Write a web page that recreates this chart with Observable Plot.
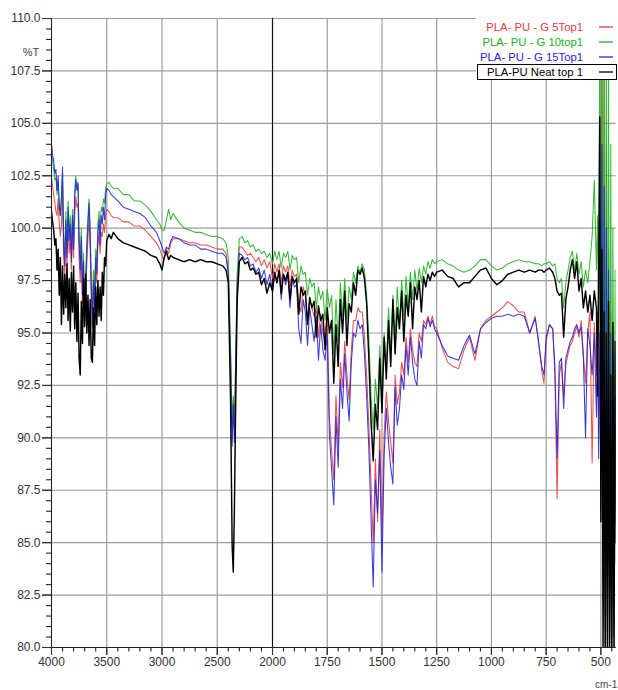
<!DOCTYPE html>
<html><head><meta charset="utf-8">
<script src="https://cdn.jsdelivr.net/npm/d3@7"></script>
<script src="https://cdn.jsdelivr.net/npm/@observablehq/plot@0.6"></script>
<style>body{margin:0;background:#fff}#chart{width:618px;height:690px}</style>
</head><body><div id="chart"></div>
<script>
const wavenumber = [
4000,3990,3980,3970,3960,3950,3940,3930,3920,3910,3900,3890,3880,3870,3860,3850,3840,3830,3820,3810,3800,3790,3780,3770,3760,3750,3740,3730,3720,3710,3700,3690,3680,3670,3660,3650,3640,3630,3620,3610,3600,3590,3580,3570,3560,3550,3540,3530,3520,3510,3500,3480,3460,3440,
3400,3350,3300,3250,3200,3150,3100,3050,3020,3000,2980,2960,2940,2920,2900,2850,2800,2750,2700,2650,2600,2550,2500,2450,
2420,2400,2380,2365,2355,2345,2335,2320,2300,
2275,2250,2225,2200,2175,2150,2125,2100,2075,2050,2025,
2000,1990,1980,1970,1960,1950,1940,1930,1920,1910,1900,1890,1880,1870,1860,1850,1840,1830,1820,1810,1800,1790,1780,1770,1760,1750,1740,1730,1720,1710,1700,1690,1680,1670,1660,1650,1640,1630,1620,1610,1600,1590,1580,1570,1560,1550,1540,1530,1520,1510,1500,1490,1480,1470,1460,1450,1440,1430,1420,1410,1400,1390,1380,1370,1360,1350,1340,1330,1320,1310,1300,1290,1280,1270,1260,
1250,1225,1200,1175,1150,1125,1100,1075,1050,1025,1000,975,950,925,900,875,850,825,800,785,770,760,750,735,720,
710,700,690,680,670,660,650,640,630,620,610,600,590,580,570,560,550,540,530,520,515,510,505,500,495,490,485,480,475,470,465,460,455,450,445,440,435,430];

const g5 = [
102.4,102.0,101.6,101.2,100.8,100.6,101.4,100.2,99.6,100.2,101.8,98.6,97.8,99.6,98.2,100.2,98.8,99.6,98.0,99.8,98.6,100.6,101.5,101.0,101.2,98.6,97.4,99.0,96.4,97.8,95.4,96.8,98.4,99.6,100.4,99.0,96.6,95.2,97.0,96.0,98.0,97.4,99.2,99.8,98.8,99.8,99.6,100.2,99.8,100.6,100.9,100.8,100.6,100.5,
100.5,100.3,100.3,100.1,100.1,99.9,99.6,99.3,99.0,98.7,98.5,99.0,98.8,99.3,99.5,99.5,99.4,99.3,99.3,99.2,99.2,99.1,99.0,99.0,
98.8,98.0,94.0,90.4,91.8,90.4,93.0,97.4,99.1,
99.1,98.9,98.7,98.8,98.6,98.4,98.6,98.2,98.5,98.1,98.4,
97.6,98.3,97.9,98.3,97.4,98.2,97.9,98.2,97.2,98.0,
97.7,97.8,96.4,96.0,97.2,96.8,95.6,96.6,96.2,95.8,
96.2,94.8,95.9,95.0,94.6,95.8,91.0,89.4,88.0,92.0,
89.6,93.6,92.4,94.6,93.0,91.8,94.2,95.6,95.6,96.2,
96.0,96.0,94.8,93.0,90.6,87.8,85.0,89.0,86.0,90.4,
85.4,90.2,92.2,90.8,89.8,88.8,93.0,91.6,92.2,93.6,
93.0,94.8,93.6,95.2,94.2,93.6,93.4,95.0,94.6,95.6,
95.4,95.8,95.4,95.8,95.3,
95.2,94.3,93.6,93.4,93.3,94.2,94.8,93.7,95.2,95.6,95.8,96.0,96.2,96.5,96.3,96.0,96.0,95.0,95.8,94.6,93.2,92.6,94.6,95.4,95.2,
93.0,87.1,93.0,93.6,92.0,93.5,94.0,94.4,94.6,95.0,95.3,94.8,95.6,94.0,92.6,95.0,96.0,88.8,95.5,93.0,96.0,90.0,93.5,88.0,110.5,82.0,108.0,80.0,104.0,80.5,99.0,82.0,96.0,80.5,95.0,82.0,93.0,86.0];

const g10 = [
103.6,103.2,102.8,102.3,102.4,101.6,102.2,101.0,100.6,101.4,102.6,99.6,98.8,100.8,99.2,101.3,99.8,100.6,99.0,100.9,99.6,101.8,102.5,102.0,102.2,99.6,98.6,100.0,97.4,98.8,96.4,97.8,99.4,100.6,101.4,100.0,97.6,96.2,98.0,97.0,99.0,98.4,100.2,100.8,99.8,101.0,100.8,101.4,101.2,101.9,102.1,102.2,102.0,101.9,
101.9,101.6,101.6,101.3,101.3,101.1,100.8,100.4,100.2,99.9,99.9,100.4,100.9,100.4,100.7,100.3,100.0,99.9,99.8,99.8,99.7,99.6,99.6,99.5,
99.3,98.6,94.4,90.6,92.0,90.8,93.4,97.8,99.5,
99.6,99.3,99.4,99.1,99.2,98.9,99.0,98.8,98.9,98.6,98.8,
98.3,98.9,98.5,98.9,98.1,98.8,98.6,98.9,98.0,98.7,
98.5,98.6,97.4,98.2,97.8,97.9,96.8,97.6,97.2,97.4,
96.2,97.2,96.6,97.0,95.6,97.1,96.2,96.8,94.0,96.6,
94.6,97.4,95.8,97.6,95.6,97.2,96.6,97.9,97.4,98.2,
97.9,98.3,98.0,96.8,94.8,92.0,90.4,92.8,91.4,94.4,
92.2,95.0,93.4,96.2,94.0,96.8,94.8,97.2,95.4,97.5,
95.8,97.7,96.2,97.9,96.6,98.0,97.0,98.1,97.4,98.2,
97.8,98.4,98.1,98.5,98.3,
98.4,98.5,98.3,98.2,98.0,97.9,98.0,98.2,98.5,98.5,98.2,98.0,98.1,98.3,98.4,98.5,98.4,98.4,98.3,98.3,98.2,98.3,98.3,98.4,98.2,
98.3,97.6,97.4,97.6,96.2,97.4,98.0,98.6,98.9,98.0,98.8,97.8,98.4,97.2,98.0,97.4,98.4,99.6,102.3,98.0,100.6,95.0,110.5,86.5,111.0,83.0,111.0,81.5,110.5,84.0,108.0,82.0,104.0,85.0,100.0,84.0,98.0,88.0];

const g15 = [
104.0,103.5,103.2,102.6,102.8,101.8,102.5,101.2,100.6,101.5,102.9,99.2,98.2,100.4,98.6,101.0,99.4,100.2,98.4,100.6,99.0,101.4,102.3,101.8,102.1,99.2,98.0,99.6,96.8,98.4,95.6,97.2,99.0,100.2,101.2,99.6,97.0,95.4,97.5,96.2,98.6,97.8,99.8,100.4,99.2,100.6,100.2,101.0,100.4,101.6,101.9,101.8,101.6,101.5,
101.3,101.0,100.9,100.8,100.7,100.5,100.1,99.8,99.4,99.1,98.8,99.1,99.0,99.4,99.6,99.5,99.3,99.2,99.2,99.0,99.0,98.9,98.8,98.8,
98.6,97.8,93.5,89.6,91.6,89.8,92.4,97.0,98.8,
98.7,98.5,98.6,98.2,98.3,97.9,98.1,97.6,98.0,97.3,97.8,
97.0,97.9,97.4,97.9,96.6,97.8,97.3,97.8,96.2,97.6,
97.2,97.3,95.2,94.5,96.6,96.0,94.4,96.2,95.4,94.6,
95.8,93.7,95.4,94.2,93.7,95.0,90.1,88.5,86.8,91.0,
88.6,92.8,91.4,94.0,92.2,90.8,93.6,95.0,94.8,95.6,
95.2,95.4,94.0,92.0,89.5,86.2,82.9,88.0,86.4,89.4,
83.6,89.2,91.4,89.8,88.6,87.8,92.4,90.6,91.4,93.0,
92.3,94.4,93.0,94.8,93.6,92.8,92.5,94.6,93.8,95.4,
95.2,95.7,95.3,95.6,95.2,
95.0,94.4,93.9,93.8,93.7,94.4,94.9,94.0,95.2,95.5,95.7,95.8,95.8,95.9,95.8,95.9,95.8,95.0,95.7,94.6,93.4,93.0,94.8,95.4,95.2,
93.4,89.0,93.6,93.8,91.4,93.8,94.2,94.6,94.8,95.2,95.4,95.0,95.3,93.8,90.0,95.2,94.4,93.0,95.0,91.0,95.4,89.0,95.0,89.5,104.0,84.0,102.0,81.0,100.0,82.0,98.0,80.5,95.0,82.0,94.0,80.5,92.0,84.0];

const neat = [
100.8,100.3,99.9,99.2,99.5,98.0,99.0,96.8,98.6,95.4,98.2,95.9,97.8,96.2,98.3,95.6,97.6,95.1,97.9,96.0,98.2,95.2,97.4,94.6,96.9,93.8,93.0,96.5,94.5,97.6,95.3,97.8,95.0,96.8,94.4,96.6,93.8,93.6,96.2,94.4,97.2,95.4,97.5,95.8,97.2,95.6,97.9,96.8,98.6,98.2,99.4,99.7,99.5,99.8,
99.5,99.3,99.2,99.1,99.0,98.9,98.7,98.6,98.3,98.0,98.6,98.9,98.5,98.7,98.6,98.5,98.4,98.5,98.4,98.5,98.4,98.4,98.3,98.2,
98.0,97.4,92.0,84.8,83.6,86.5,91.0,96.5,98.4,
98.6,98.3,98.4,98.0,98.1,97.8,97.9,97.3,97.6,96.9,97.4,
97.0,97.9,97.4,98.0,96.9,97.8,97.5,97.9,96.6,97.7,
97.4,97.6,95.9,97.2,96.8,97.0,95.4,96.7,96.2,96.5,
94.8,96.3,95.6,95.9,94.2,96.2,95.0,95.6,92.6,95.4,
93.4,96.6,95.0,97.0,94.4,96.4,96.0,97.4,96.8,98.0,
97.8,98.1,97.6,96.4,93.8,90.8,88.9,91.6,90.4,93.8,
91.2,94.8,92.8,95.6,93.4,96.6,94.0,96.2,95.2,97.0,
94.6,96.8,95.8,97.4,95.2,97.2,96.6,97.5,96.0,97.7,
97.2,97.8,97.5,97.9,97.7,
97.9,98.0,97.7,97.6,97.2,97.4,97.4,97.7,98.0,98.1,97.6,97.3,97.5,97.8,97.9,98.0,97.9,98.0,97.9,98.0,98.0,97.9,98.0,98.1,97.9,
97.6,97.0,96.8,96.9,94.8,96.6,97.2,98.0,98.5,97.6,98.4,97.0,97.6,96.2,97.0,96.0,96.8,95.6,97.0,96.2,92.0,98.0,105.3,86.0,99.0,80.0,96.0,79.0,95.0,79.0,96.5,79.0,93.0,79.0,95.5,79.0,94.6,85.0];

const seriesNames = ["PLA- PU - G 5Top1", "PLA- PU - G 10top1", "PLA- PU - G 15Top1", "PLA-PU Neat top 1"];
const seriesColors = ["#ec3b3b", "#22b022", "#2424dc", "#000000"];
const xTicks = [4000, 3500, 3000, 2500, 2000, 1750, 1500, 1250, 1000, 750, 500];
const yTicks = [80, 82.5, 85, 87.5, 90, 92.5, 95, 97.5, 100, 102.5, 105, 107.5, 110];

const seriesValues = [g5, g10, g15, neat];
const tables = seriesValues.map(vals => vals.map((t, i) => ({wn: wavenumber[i], t})));

const xMinor = d3.range(3900, 2000, -100).filter(d => d % 500 !== 0)
  .concat(d3.range(1950, 440, -50).filter(d => d % 250 !== 0));
const yMinor = d3.range(80, 110.01, 0.5).filter(d => Math.abs(d / 2.5 - Math.round(d / 2.5)) > 1e-6);

const fontFamily = "Liberation Sans";
const W = 618, H = 690, mL = 51, mR = 2.3, mT = 18, mB = 43;
const frameW = W - mL - mR, frameH = H - mT - mB;

const plot = Plot.plot({
  width: W,
  height: H,
  marginLeft: mL,
  marginRight: mR,
  marginTop: mT,
  marginBottom: mB,
  style: {fontFamily, fontSize: "12px", color: "#333", background: "#fff"},
  x: {type: "linear", domain: [4000, 2000, 430], range: [mL, 272, W - mR]},
  y: {domain: [80, 110]},
  marks: [
    Plot.gridX(xTicks.filter(d => d !== 2000), {stroke: "#9c9c9c", strokeOpacity: 1, strokeWidth: 1.2}),
    Plot.gridY(yTicks, {stroke: "#9c9c9c", strokeOpacity: 1, strokeWidth: 1.2}),
    Plot.gridX([2000], {stroke: "#111", strokeOpacity: 1, strokeWidth: 1.2}),
    ...tables.map((tab, s) => Plot.line(tab, {
      x: "wn", y: "t", stroke: seriesColors[s],
      strokeWidth: s === 3 ? 1.45 : 1.05, strokeOpacity: s === 3 ? 1 : 0.9, clip: true
    })),
    Plot.ruleX([4000], {stroke: "#222"}),
    Plot.ruleY([80], {stroke: "#222"}),
    Plot.ruleX(xTicks, {insetTop: frameH, insetBottom: -8, stroke: "#222", strokeWidth: 1.1}),
    Plot.ruleX(xMinor, {insetTop: frameH, insetBottom: -4.5, stroke: "#222", strokeWidth: 1.1}),
    Plot.ruleY(yTicks, {insetLeft: -9, insetRight: frameW, stroke: "#222", strokeWidth: 1.1}),
    Plot.ruleY(yMinor, {insetLeft: -5, insetRight: frameW, stroke: "#222", strokeWidth: 1.1}),
    Plot.axisX(xTicks, {tickSize: 8, tickPadding: 2, tickFormat: d => String(d), label: null}),
    Plot.axisY(yTicks, {tickSize: 9, tickPadding: 2, tickFormat: d => d.toFixed(1), label: null})
  ]
});

const svg = d3.select(plot);
svg.append("text").attr("x", 31).attr("y", 52).attr("dy", "0.35em")
  .attr("text-anchor", "middle").attr("font-size", 11).attr("fill", "#444")
  .attr("font-family", fontFamily).text("%T");
svg.append("text").attr("x", 595).attr("y", 688).attr("text-anchor", "start")
  .attr("font-size", 10).attr("fill", "#444").attr("font-family", fontFamily).text("cm-1");

const lg = svg.append("g").attr("font-family", fontFamily).attr("font-size", 11.3);
lg.append("rect").attr("x", 476).attr("y", 0).attr("width", 142).attr("height", 80).attr("fill", "#fff");
const rowY = [27, 42, 57, 72];
seriesNames.forEach((name, i) => {
  lg.append("text").attr("x", 583).attr("y", rowY[i]).attr("dy", "0.35em")
    .attr("text-anchor", "end").attr("fill", seriesColors[i]).text(name);
  lg.append("line").attr("x1", 599).attr("x2", 613).attr("y1", rowY[i]).attr("y2", rowY[i])
    .attr("stroke", seriesColors[i]).attr("stroke-width", 1.3);
});
lg.append("rect").attr("x", 477.5).attr("y", 64.5).attr("width", 139).attr("height", 15)
  .attr("fill", "none").attr("stroke", "#000").attr("stroke-width", 1);

document.getElementById("chart").appendChild(plot);
</script>
</body></html>
